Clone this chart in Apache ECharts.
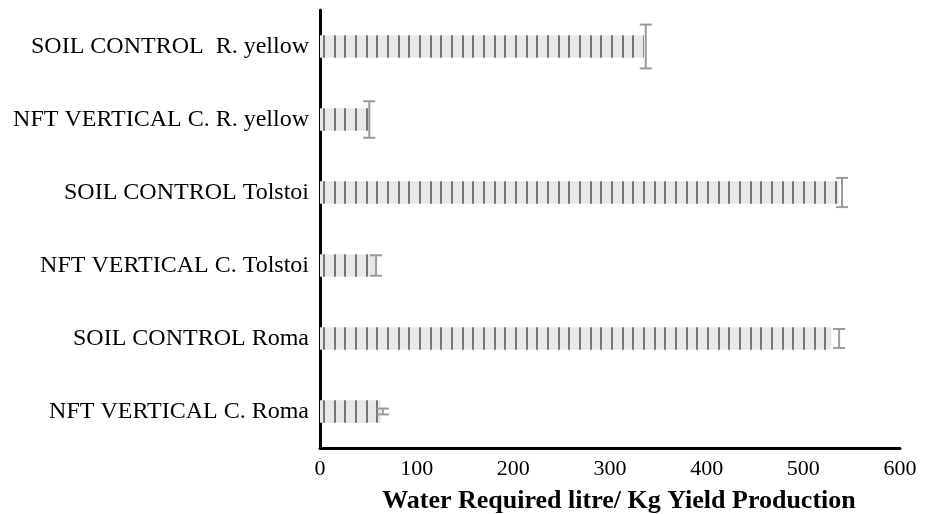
<!DOCTYPE html>
<html><head><meta charset="utf-8">
<script src="https://cdn.jsdelivr.net/npm/echarts@6/dist/echarts.min.js"></script>
<style>html,body{margin:0;padding:0;background:#fff}#c{width:933px;height:514px}</style>
</head><body><div id="c"></div>
<script>
const categories = ['SOIL CONTROL  R. yellow','NFT VERTICAL C. R. yellow','SOIL CONTROL Tolstoi','NFT VERTICAL C. Tolstoi','SOIL CONTROL Roma','NFT VERTICAL C. Roma'];
const values = [335, 50, 537, 57, 529, 63];
const errors = [2, 1, 3, 1, 8, 2];
const errorSpread = [0.30, 0.25, 0.20, 0.14, 0.13, 0.04];
const xTicks = [0, 100, 200, 300, 400, 500, 600];

// striped pattern
const pc = document.createElement('canvas');
pc.width = 32; pc.height = 8;
const g = pc.getContext('2d');
g.fillStyle = '#e8e8e8'; g.fillRect(0,0,32,8);
g.fillStyle = '#747474';
[3,14,24].forEach(x=>g.fillRect(x,0,2,8));

const chart = echarts.init(document.getElementById('c'), null, {renderer:'canvas'});
const font = '"Liberation Serif","Times New Roman",serif';
chart.setOption({
  animation:false,
  grid:{left:320,right:33,top:10,bottom:66,containLabel:false,outerBoundsMode:'none'},
  xAxis:{type:'value',min:xTicks[0],max:xTicks[xTicks.length-1],interval:100,
    axisLine:{show:true,lineStyle:{color:'#000',width:3}},
    axisTick:{show:false},splitLine:{show:false},
    axisLabel:{color:'#000',fontFamily:font,fontSize:22,margin:10},
    name:'Water Required litre/ Kg Yield Production',nameLocation:'middle',nameGap:40,
    nameTextStyle:{color:'#000',fontFamily:font,fontSize:26,fontWeight:'bold',padding:[0,0,0,18]}},
  yAxis:{type:'category',data:categories,inverse:true,
    axisLine:{show:true,lineStyle:{color:'#000',width:3}},
    axisTick:{show:false},
    axisLabel:{color:'#000',fontFamily:font,fontSize:24,margin:11}},
  series:[
    {type:'bar',data:values,barWidth:'31%',itemStyle:{color:{image:pc,repeat:'repeat'}},z:2},
    {type:'custom',z:3,
     data:values.map((v,i)=>[v+errors[i], i, errorSpread[i]]),
     renderItem:function(params,api){
       const p = api.coord([api.value(0), api.value(1)]);
       const band = api.size([0,1])[1];
       const h = band*api.value(2);
       const cw = 6;
       const st = {stroke:'#9a9a9a',lineWidth:2};
       return {type:'group',children:[
         {type:'line',shape:{x1:p[0],y1:p[1]-h,x2:p[0],y2:p[1]+h},style:st},
         {type:'line',shape:{x1:p[0]-cw,y1:p[1]-h,x2:p[0]+cw,y2:p[1]-h},style:st},
         {type:'line',shape:{x1:p[0]-cw,y1:p[1]+h,x2:p[0]+cw,y2:p[1]+h},style:st}
       ]};
     }}
  ]
});
</script></body></html>
